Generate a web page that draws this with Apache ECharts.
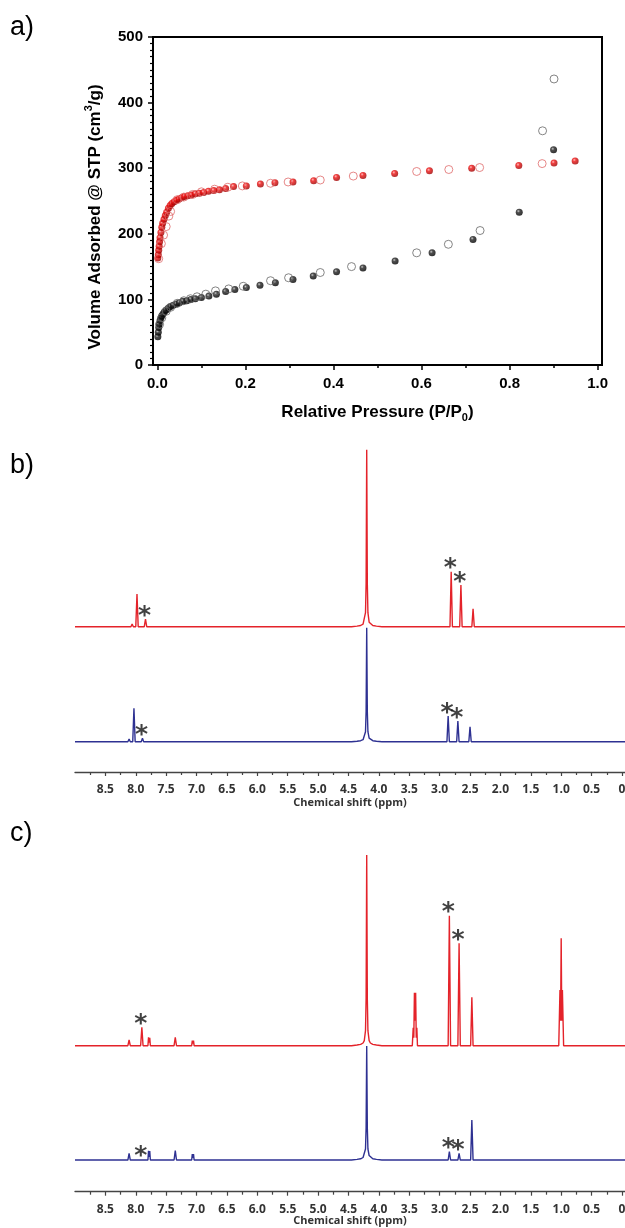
<!DOCTYPE html>
<html><head><meta charset="utf-8">
<script src="https://cdn.jsdelivr.net/npm/echarts@6/dist/echarts.min.js"></script>
<style>html,body{margin:0;padding:0;background:#fff}#c{width:625px;height:1228px}</style>
</head><body><div id="c"></div>
<script>
// ---------- Panel a: N2 isotherms ----------
const redAdsP = [0.001,0.002,0.003,0.004,0.005,0.006,0.008,0.010,0.012,0.015,0.018,0.021,0.025,0.029,0.033,0.038,0.043,0.049,0.055,0.062,0.069,0.077,0.086,0.095,0.105,0.116,0.128,0.141,0.155,0.173,0.202,0.234,0.267,0.308,0.355,0.407,0.467,0.539,0.618,0.714,0.821,0.901,0.949];
const redAdsV = [163,168,175,181,188,194,202,210,216,222,228,233,239,243,246,249,251,253,255,257,258,259,261,262,263,265,266,267,269,272,273,276,278,279,281,286,289,292,296,300,304,308,311];
const redDesP = [0.003,0.009,0.014,0.020,0.026,0.030,0.045,0.060,0.080,0.100,0.130,0.160,0.193,0.257,0.297,0.370,0.445,0.589,0.662,0.732,0.874];
const redDesV = [162,185,198,211,227,234,252,256,260,264,268,271,273,277,279,282,288,295,298,301,307];
const blackAdsP = [0.001,0.002,0.003,0.004,0.006,0.008,0.010,0.013,0.016,0.020,0.025,0.030,0.036,0.043,0.050,0.058,0.067,0.076,0.086,0.100,0.117,0.134,0.155,0.176,0.202,0.233,0.268,0.308,0.354,0.407,0.467,0.540,0.624,0.717,0.822,0.900];
const blackAdsV = [43,50,57,62,68,72,75,78,81,84,87,89,91,93,95,97,98,100,101,103,105,108,112,115,118,121.5,125.5,130.5,135.6,142,148,158.5,171,191.5,233,328];
const blackDesP = [0.005,0.010,0.020,0.030,0.045,0.060,0.075,0.090,0.110,0.132,0.162,0.195,0.257,0.298,0.370,0.441,0.589,0.661,0.733,0.875,0.901];
const blackDesV = [62,72,82,88,94,98,101,104,108,113,116,120,128.5,133,141,150,171,184,205,357,436];
const aTicksX = [0.0,0.2,0.4,0.6,0.8,1.0];

// ---------- Panel b: 1H NMR ----------
const bRedPpm = [9.00,8.08,8.06,8.04,8.00,7.98,7.96,7.86,7.84,7.82,4.45,4.36,4.30,4.26,4.24,4.22,4.21,4.20,4.19,4.18,4.16,4.14,4.10,4.04,3.95,2.83,2.81,2.79,2.67,2.65,2.63,2.47,2.45,2.43,-0.05];
const bRedInt = [0,0,2.7,0,0,32.7,0,0,7.7,0,0,0.6,1.2,2.5,4.5,14,43,177,43,14,4.5,2.5,1.2,0.6,0,0,55,0,0,41.7,0,0,18,0,0];
const bBluePpm = [9.00,8.13,8.11,8.09,8.05,8.03,8.01,7.91,7.89,7.87,4.45,4.36,4.30,4.26,4.24,4.22,4.21,4.20,4.19,4.18,4.16,4.14,4.10,4.04,3.95,2.88,2.86,2.84,2.72,2.70,2.68,2.52,2.50,2.48,-0.05];
const bBlueInt = [0,0,2.7,0,0,33.4,0,0,3.4,0,0,0.5,1,2,3.5,10,30,114,30,10,3.5,2,1,0.5,0,0,25.7,0,0,20.7,0,0,15,0,0];
const bRedStars = [7.84,2.81,2.65];
const bBlueStars = [7.89,2.86,2.70];

// ---------- Panel c: 1H NMR ----------
const cRedPpm = [9.00,8.49,8.47,8.45,8.13,8.11,8.09,7.92,7.90,7.88,7.80,7.79,7.78,7.77,7.76,7.37,7.35,7.33,7.08,7.07,7.06,7.05,7.04,4.45,4.36,4.30,4.26,4.24,4.22,4.21,4.20,4.19,4.18,4.16,4.14,4.10,4.04,3.95,3.45,3.435,3.425,3.415,3.405,3.395,3.385,3.375,3.365,2.86,2.84,2.82,2.70,2.68,2.66,2.49,2.47,2.45,1.04,1.02,1.01,1.00,0.99,0.98,0.96,-0.05];
const cRedInt = [0,0,1,0,0,5.7,0,0,18.4,0,0,8.4,3,8,0,0,8.4,0,0,5,2,5,0,0,0.7,1.3,2.7,5,15,47,190.7,47,15,5,2.7,1.3,0.7,0,0,18,8,53,25,53,8,18,0,0,130,0,0,102.4,0,0,48.4,0,0,55.7,25,107.4,25,55.7,0,0];
const cBluePpm = [9.00,8.49,8.47,8.45,8.13,8.11,8.09,7.92,7.90,7.88,7.80,7.79,7.78,7.77,7.76,7.37,7.35,7.33,7.08,7.07,7.06,7.05,7.04,4.45,4.36,4.30,4.26,4.24,4.22,4.21,4.20,4.19,4.18,4.16,4.14,4.10,4.04,3.95,2.86,2.84,2.82,2.70,2.68,2.66,2.49,2.47,2.45,2.04,2.03,2.02,1.97,1.96,1.95,1.80,1.79,1.78,-0.05];
const cBlueInt = [0,0,0.7,0,0,6.7,0,0,1,0,0,9.3,3,9,0,0,9.3,0,0,6,2,6,0,0,0.6,1.2,2.5,4.5,11,32,114,32,11,4.5,2.5,1.2,0.6,0,0,8.3,0,0,6.7,0,0,40,0,0,1.2,0,0,1.2,0,0,1,0,0];
const cRedStars = [7.90,2.84,2.68];
const cBlueStars = [7.90,2.84,2.68];
const nmrTicks = [8.5,8.0,7.5,7.0,6.5,6.0,5.5,5.0,4.5,4.0,3.5,3.0,2.5,2.0,1.5,1.0,0.5,0];

// ---------- layout ----------
const offB = {red:145.3, blue:30.3};
const offC = {red:146, blue:31.7};
const RED = '#e4232a', BLUE = '#2e3192';

function spec(ppm, inten, off){ return ppm.map((p,i)=>[p, inten[i]+off]); }
function starPts(list, ppm, inten, off){
  return list.map(s=>{ let best=0; ppm.forEach((p,i)=>{ if(Math.abs(p-s)<0.006 && inten[i]>best) best=inten[i]; }); return [s, best+off]; });
}
function xy(P,V){ return P.map((p,i)=>[p,V[i]]); }

function ball(c0,c1,c2){
  return {type:'radial', x:0.38, y:0.35, r:0.65, colorStops:[{offset:0,color:c0},{offset:0.35,color:c1},{offset:1,color:c2}]};
}

const aFont = '"Liberation Sans", Arial, sans-serif';
const nFont = '"Open Sans", sans-serif';

function nmrX(gridIndex, gap){
  return {
    gridIndex, type:'value', inverse:true, min:-0.05, max:9.0, splitNumber:18,
    axisLine:{show:true, lineStyle:{color:'#444', width:1.3}},
    axisTick:{show:true, customValues:nmrTicks, length:4, lineStyle:{color:'#444', width:1.2}},
    minorTick:{show:true, splitNumber:2, length:3, lineStyle:{color:'#444', width:1.2}},
    axisLabel:{show:true, customValues:nmrTicks, margin:12, fontFamily:nFont, fontWeight:'bold', fontSize:12, color:'#333',
      formatter:v=> v===0 ? '0' : v.toFixed(1)},
    splitLine:{show:false}, minorSplitLine:{show:false},
    name:'Chemical shift (ppm)', nameLocation:'middle', nameGap:gap, nameMoveOverlap:false,
    nameTextStyle:{fontFamily:nFont, fontWeight:'bold', fontSize:11, color:'#333'}
  };
}
function starSeries(xi, data){
  return {type:'scatter', xAxisIndex:xi, yAxisIndex:xi, data, symbol:'circle', symbolSize:1, z:5,
    itemStyle:{color:'rgba(255,255,255,0)'},
    label:{show:true, position:'inside', offset:[-1,-3], formatter:'*', fontFamily:'"DejaVu Sans"', fontWeight:'bold', fontSize:25, color:'#111'}};
}

const option = {
  animation:false,
  backgroundColor:'#fff',
  grid:[
    {left:153, top:37, width:449, height:328, show:true, borderColor:'#000', borderWidth:2, outerBoundsMode:'none', containLabel:false},
    {left:75, top:430, width:550, height:342, outerBoundsMode:'none', containLabel:false},
    {left:75, top:840, width:550, height:351.7, outerBoundsMode:'none', containLabel:false}
  ],
  xAxis:[
    {gridIndex:0, type:'value', min:-0.01, max:1.01, splitNumber:5,
     axisLine:{show:true, onZero:false, lineStyle:{color:'#000', width:2}},
     axisTick:{show:true, customValues:aTicksX, length:5, lineStyle:{color:'#000', width:1.5}},
     minorTick:{show:true, splitNumber:2, length:3, lineStyle:{color:'#000', width:1.5}},
     axisLabel:{show:true, customValues:aTicksX, margin:11, fontFamily:aFont, fontWeight:'bold', fontSize:15, color:'#000', formatter:v=>v.toFixed(1)},
     splitLine:{show:false}, minorSplitLine:{show:false},
     name:'Relative Pressure (P/P{sub|0})', nameLocation:'middle', nameGap:36, nameMoveOverlap:false,
     nameTextStyle:{fontFamily:aFont, fontWeight:'bold', fontSize:17, color:'#000', lineHeight:22,
       rich:{sub:{fontFamily:aFont, fontWeight:'bold', fontSize:11, color:'#000', verticalAlign:'bottom', lineHeight:22}}}
    },
    nmrX(1, 25),
    nmrX(2, 24)
  ],
  yAxis:[
    {gridIndex:0, type:'value', min:0, max:500, interval:100,
     axisLine:{show:true, onZero:false, lineStyle:{color:'#000', width:2}},
     axisTick:{show:true, length:5, lineStyle:{color:'#000', width:1.5}},
     minorTick:{show:true, splitNumber:10, length:3, lineStyle:{color:'#000', width:1.2}},
     axisLabel:{show:true, margin:10, fontFamily:aFont, fontWeight:'bold', fontSize:15, color:'#000'},
     splitLine:{show:false}, minorSplitLine:{show:false},
     name:'Volume Adsorbed @ STP (cm{sup|3}/g)', nameLocation:'middle', nameGap:46, nameMoveOverlap:false,
     nameTextStyle:{fontFamily:aFont, fontWeight:'bold', fontSize:17, color:'#000', lineHeight:24, padding:[0,32,0,0],
       rich:{sup:{fontFamily:aFont, fontWeight:'bold', fontSize:11, color:'#000', verticalAlign:'top', lineHeight:24}}}
    },
    {gridIndex:1, type:'value', min:0, max:342, show:false},
    {gridIndex:2, type:'value', min:0, max:351.7, show:false}
  ],
  graphic:[
    {type:'text', left:10, top:14, style:{text:'a)', font:'27px "Liberation Sans", sans-serif', fill:'#000'}},
    {type:'text', left:10, top:452, style:{text:'b)', font:'27px "Liberation Sans", sans-serif', fill:'#000'}},
    {type:'text', left:10, top:820, style:{text:'c)', font:'27px "Liberation Sans", sans-serif', fill:'#000'}}
  ],
  series:[
    {type:'scatter', xAxisIndex:0, yAxisIndex:0, data:xy(blackAdsP,blackAdsV), symbolSize:7,
     itemStyle:{color:ball('#bbbbbb','#222222','#000000')}},
    {type:'scatter', xAxisIndex:0, yAxisIndex:0, data:xy(redAdsP,redAdsV), symbolSize:7,
     itemStyle:{color:ball('#ffb0b0','#ee1111','#a00000')}},
    {type:'scatter', xAxisIndex:0, yAxisIndex:0, data:xy(blackDesP,blackDesV), symbolSize:8,
     itemStyle:{color:'rgba(0,0,0,0)', borderColor:'#666', borderWidth:1}},
    {type:'scatter', xAxisIndex:0, yAxisIndex:0, data:xy(redDesP,redDesV), symbolSize:8,
     itemStyle:{color:'rgba(0,0,0,0)', borderColor:'#e06a6a', borderWidth:1}},

    {type:'line', xAxisIndex:1, yAxisIndex:1, data:spec(bBluePpm,bBlueInt,offB.blue), showSymbol:false, symbol:'none',
     lineStyle:{color:BLUE, width:1.4}},
    {type:'line', xAxisIndex:1, yAxisIndex:1, data:spec(bRedPpm,bRedInt,offB.red), showSymbol:false, symbol:'none',
     lineStyle:{color:RED, width:1.4}},
    starSeries(1, starPts(bRedStars,bRedPpm,bRedInt,offB.red).concat(starPts(bBlueStars,bBluePpm,bBlueInt,offB.blue))),

    {type:'line', xAxisIndex:2, yAxisIndex:2, data:spec(cBluePpm,cBlueInt,offC.blue), showSymbol:false, symbol:'none',
     lineStyle:{color:BLUE, width:1.4}},
    {type:'line', xAxisIndex:2, yAxisIndex:2, data:spec(cRedPpm,cRedInt,offC.red), showSymbol:false, symbol:'none',
     lineStyle:{color:RED, width:1.4}},
    starSeries(2, starPts(cRedStars,cRedPpm,cRedInt,offC.red).concat(starPts(cBlueStars,cBluePpm,cBlueInt,offC.blue)))
  ]
};
const chart = echarts.init(document.getElementById('c'), null, {renderer:'canvas', width:625, height:1228});
chart.setOption(option);
</script></body></html>
